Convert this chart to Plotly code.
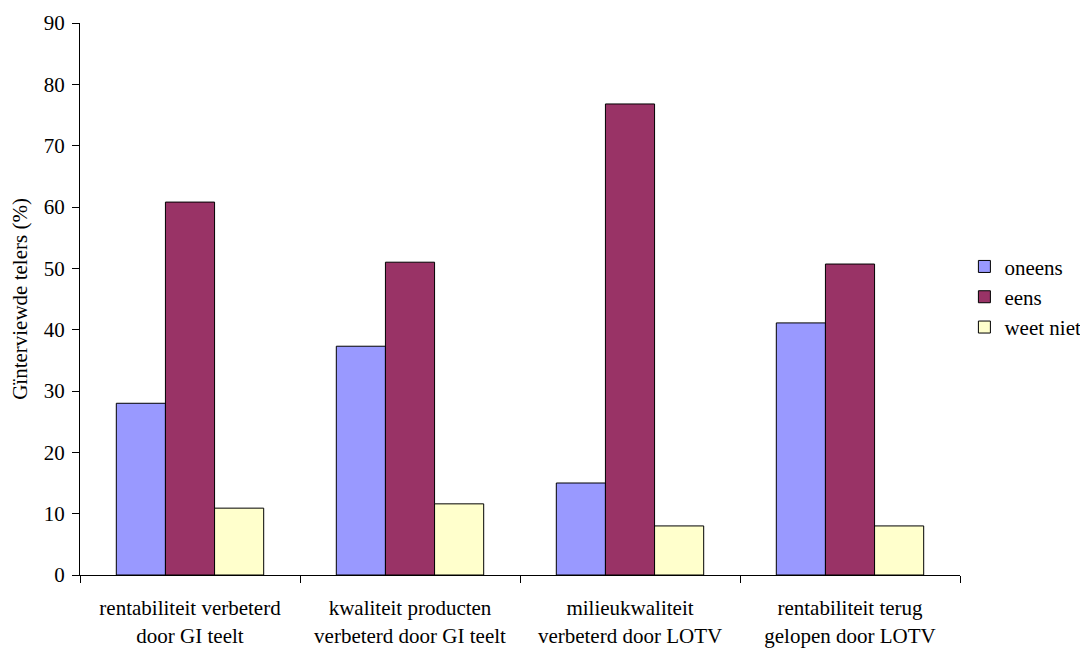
import plotly.graph_objects as go

categories = ["rentabiliteit verbeterd<br>door GI teelt",
              "kwaliteit producten<br>verbeterd door GI teelt",
              "milieukwaliteit<br>verbeterd door LOTV",
              "rentabiliteit terug<br>gelopen door LOTV"]
oneens = [28.0, 37.3, 15.0, 41.1]
eens = [60.8, 51.0, 76.8, 50.7]
weet_niet = [10.9, 11.6, 8.0, 8.0]

series = [("oneens", oneens, "#9999FF"),
          ("eens", eens, "#993366"),
          ("weet niet", weet_niet, "#FFFFCC")]

FONT = "Liberation Serif, Times New Roman, serif"

fig = go.Figure()
for name, vals, col in series:
    fig.add_trace(go.Bar(x=categories, y=vals, name=name, marker_color=col,
                         marker_line_color="black", marker_line_width=1))

fig.update_layout(
    width=1080, height=640,
    paper_bgcolor="white", plot_bgcolor="white",
    font=dict(family=FONT, size=21, color="black"),
    margin=dict(l=72, r=128, t=15, b=73, autoexpand=False),
    barmode="group", bargap=0.33, bargroupgap=0,
    legend=dict(x=1.005, y=0.504, yanchor="middle", xanchor="left",
                font=dict(family=FONT, size=21, color="black"), tracegroupgap=0),
    showlegend=True,
)
fig.update_yaxes(range=[0, 90], dtick=10, showline=True, linecolor="black", linewidth=1,
                 ticks="outside", ticklen=7, tickcolor="black", showgrid=False, zeroline=False,
                 ticklabelstandoff=3, tickfont=dict(family=FONT, size=21),
                 automargin=False,
                 title=dict(text="Gïnterviewde telers (%)", standoff=10,
                            font=dict(family=FONT, size=21)))
fig.update_xaxes(showline=True, linecolor="black", linewidth=1, ticks="outside", ticklen=7,
                 tickcolor="black", tickson="boundaries", showgrid=False, automargin=False,
                 ticklabelstandoff=14, tickfont=dict(family=FONT, size=21))

fig.write_html("out.html")
